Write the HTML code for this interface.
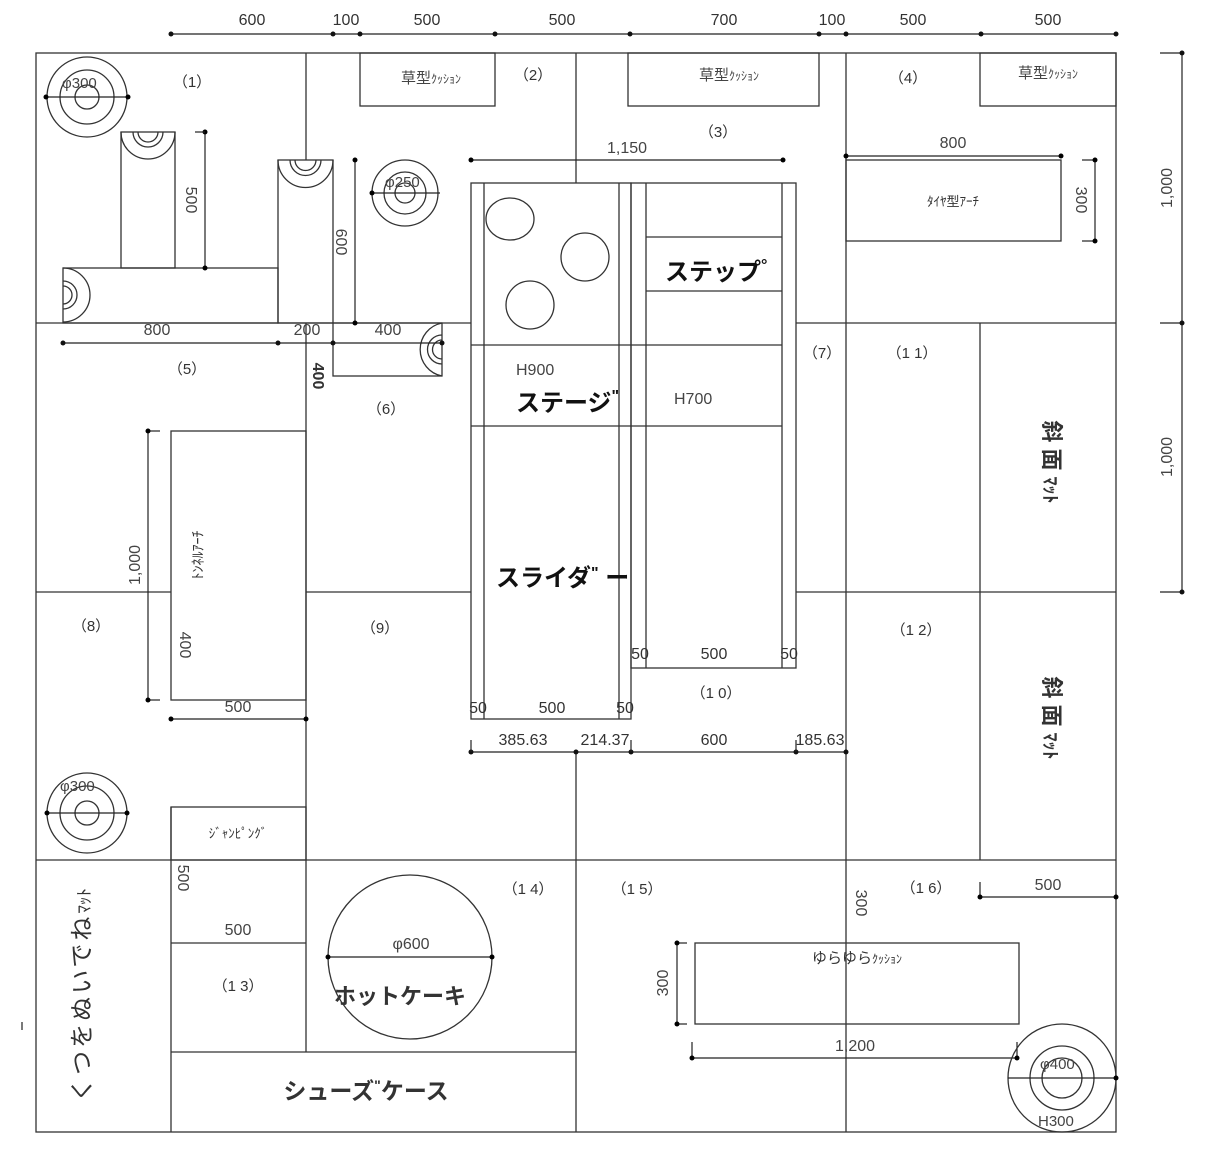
<!DOCTYPE html>
<html><head><meta charset="utf-8"><style>
html,body{margin:0;padding:0;background:#fff;}
svg{display:block;}
text{font-family:"Liberation Sans","Noto Sans CJK JP",sans-serif;fill:#333;}
.l{stroke:#333;stroke-width:1.3;fill:none;}
.d{stroke:#222;stroke-width:1.2;fill:none;}
.t{font-size:16px;fill:#444;}
.s{font-size:15px;fill:#444;}
.b{font-size:24px;font-weight:bold;fill:#111;}
</style></head><body>
<svg width="1210" height="1159" viewBox="0 0 1210 1159" xmlns="http://www.w3.org/2000/svg">
<line class="d" x1="171" y1="34" x2="1116" y2="34"/>
<g fill="#111">
<circle cx="171" cy="34" r="2.5"/><circle cx="333" cy="34" r="2.5"/><circle cx="360" cy="34" r="2.5"/><circle cx="495" cy="34" r="2.5"/><circle cx="630" cy="34" r="2.5"/><circle cx="819" cy="34" r="2.5"/><circle cx="846" cy="34" r="2.5"/><circle cx="981" cy="34" r="2.5"/><circle cx="1116" cy="34" r="2.5"/>
</g>
<g class="t" text-anchor="middle">
<text x="252" y="25">600</text><text x="346" y="25">100</text><text x="427" y="25">500</text><text x="562" y="25">500</text><text x="724" y="25">700</text><text x="832" y="25">100</text><text x="913" y="25">500</text><text x="1048" y="25">500</text>
</g>
<line class="d" x1="1182" y1="53" x2="1182" y2="592"/>
<line class="d" x1="1160" y1="53" x2="1182" y2="53"/><line class="d" x1="1160" y1="323" x2="1182" y2="323"/><line class="d" x1="1160" y1="592" x2="1182" y2="592"/>
<g fill="#111"><circle cx="1182" cy="53" r="2.5"/><circle cx="1182" cy="323" r="2.5"/><circle cx="1182" cy="592" r="2.5"/></g>
<text class="t" transform="translate(1172,188) rotate(-90)" text-anchor="middle">1,000</text>
<text class="t" transform="translate(1172,457) rotate(-90)" text-anchor="middle">1,000</text>

<rect class="l" x="36" y="53" width="1080" height="1079"/>
<line class="l" x1="306" y1="53" x2="306" y2="160"/>
<line class="l" x1="306" y1="323" x2="306" y2="1052"/>
<line class="l" x1="576" y1="53" x2="576" y2="183"/>
<line class="l" x1="576" y1="752" x2="576" y2="1132"/>
<line class="l" x1="846" y1="53" x2="846" y2="1132"/>
<line class="l" x1="980" y1="323" x2="980" y2="860"/>
<line class="l" x1="36" y1="323" x2="471" y2="323"/><line class="l" x1="796" y1="323" x2="1116" y2="323"/>
<line class="l" x1="36" y1="592" x2="171" y2="592"/><line class="l" x1="306" y1="592" x2="471" y2="592"/><line class="l" x1="796" y1="592" x2="1116" y2="592"/>
<line class="l" x1="36" y1="860" x2="1116" y2="860"/>

<rect class="l" x="360" y="53" width="135" height="53"/>
<rect class="l" x="628" y="53" width="191" height="53"/>
<rect class="l" x="980" y="53" width="136" height="53"/>
<text class="s" x="431" y="83" text-anchor="middle">草型<tspan font-size="12">ｸｯｼｮﾝ</tspan></text>
<text class="s" x="729" y="80" text-anchor="middle">草型<tspan font-size="12">ｸｯｼｮﾝ</tspan></text>
<text class="s" x="1048" y="78" text-anchor="middle">草型<tspan font-size="12">ｸｯｼｮﾝ</tspan></text>

<g class="s" text-anchor="middle" fill="#555">
<text x="192" y="87">（1）</text><text x="533" y="80">（2）</text><text x="718" y="137">（3）</text><text x="908" y="83">（4）</text>
<text x="187" y="374">（5）</text><text x="386" y="414">（6）</text><text x="822" y="358">（7）</text><text x="912" y="358">（1 1）</text>
<text x="91" y="631">（8）</text><text x="380" y="633">（9）</text><text x="716" y="698">（1 0）</text><text x="916" y="635">（1 2）</text>
<text x="238" y="991">（1 3）</text><text x="528" y="894">（1 4）</text><text x="637" y="894">（1 5）</text><text x="926" y="893">（1 6）</text>
</g>

<g class="l"><circle cx="87" cy="97" r="40"/><circle cx="87" cy="97" r="27"/><circle cx="87" cy="97" r="12"/></g>
<line class="d" x1="46" y1="97" x2="128" y2="97"/><circle cx="46" cy="97" r="2.5"/><circle cx="128" cy="97" r="2.5"/>
<text class="s" x="62" y="88">φ300</text>

<rect class="l" x="121" y="132" width="54" height="136"/>
<path class="l" d="M121 132 A27 27 0 0 0 175 132 M133 132 A15 15 0 0 0 163 132 M138 132 A10 10 0 0 0 158 132"/>
<rect class="l" x="63" y="268" width="215" height="55"/>
<path class="l" d="M63 268 A27 27 0 0 1 63 322 M63 281 A14 14 0 0 1 63 309 M63 286 A9 9 0 0 1 63 304"/>
<rect class="l" x="278" y="160" width="55" height="163"/>
<path class="l" d="M278 160 A27 27 0 0 0 333 160 M290 160 A15 15 0 0 0 321 160 M295 160 A10 10 0 0 0 316 160"/>
<rect class="l" x="333" y="323" width="109" height="53"/>
<path class="l" d="M442 323 A27 27 0 0 0 442 376 M442 335 A14 14 0 0 0 442 364 M442 340 A9 9 0 0 0 442 359"/>

<line class="d" x1="205" y1="132" x2="205" y2="268"/><circle cx="205" cy="132" r="2.5"/><circle cx="205" cy="268" r="2.5"/>
<line class="d" x1="195" y1="132" x2="205" y2="132"/>
<text class="t" transform="translate(186,200) rotate(90)" text-anchor="middle">500</text>
<line class="d" x1="355" y1="160" x2="355" y2="323"/><circle cx="355" cy="160" r="2.5"/><circle cx="355" cy="323" r="2.5"/>
<text class="t" transform="translate(336,242) rotate(90)" text-anchor="middle">600</text>
<line class="d" x1="63" y1="343" x2="442" y2="343"/>
<g fill="#111"><circle cx="63" cy="343" r="2.5"/><circle cx="278" cy="343" r="2.5"/><circle cx="333" cy="343" r="2.5"/><circle cx="442" cy="343" r="2.5"/></g>
<text class="t" x="157" y="335" text-anchor="middle">800</text>
<text class="t" x="307" y="335" text-anchor="middle">200</text>
<text class="t" x="388" y="335" text-anchor="middle">400</text>
<text transform="translate(313,376) rotate(90)" text-anchor="middle" font-size="16" font-weight="bold" fill="#111">400</text>

<g class="l"><circle cx="405" cy="193" r="33"/><circle cx="405" cy="193" r="21"/><circle cx="405" cy="193" r="10"/></g>
<line class="d" x1="372" y1="193" x2="440" y2="193"/><circle cx="372" cy="193" r="2.5"/>
<text class="s" x="385" y="187">φ250</text>

<line class="d" x1="471" y1="160" x2="783" y2="160"/><circle cx="471" cy="160" r="2.5"/><circle cx="783" cy="160" r="2.5"/>
<text class="t" x="627" y="153" text-anchor="middle">1,150</text>

<rect class="l" x="471" y="183" width="160" height="536"/>
<line class="l" x1="484" y1="183" x2="484" y2="719"/><line class="l" x1="619" y1="183" x2="619" y2="719"/>
<rect class="l" x="631" y="183" width="165" height="485"/>
<line class="l" x1="646" y1="183" x2="646" y2="668"/><line class="l" x1="782" y1="183" x2="782" y2="668"/>
<line class="l" x1="646" y1="237" x2="782" y2="237"/><line class="l" x1="646" y1="291" x2="782" y2="291"/>
<line class="l" x1="471" y1="345" x2="782" y2="345"/><line class="l" x1="471" y1="426" x2="782" y2="426"/>
<g class="l"><ellipse cx="510" cy="219" rx="24" ry="21"/><ellipse cx="585" cy="257" rx="24" ry="24"/><ellipse cx="530" cy="305" rx="24" ry="24"/></g>
<text class="b" x="665" y="280">ステップ<tspan font-size="16" dy="-10">°</tspan></text>
<text class="t" x="516" y="375">H900</text>
<text class="b" x="516" y="411">ステージ<tspan font-size="16" dy="-10">"</tspan></text>
<text class="t" x="674" y="404">H700</text>
<text class="b" x="496" y="586">スライダ<tspan font-size="16" dy="-8">"</tspan><tspan dy="8"> ー</tspan></text>
<g class="t" text-anchor="middle">
<text x="478" y="713">50</text><text x="552" y="713">500</text><text x="625" y="713">50</text>
<text x="640" y="659">50</text><text x="714" y="659">500</text><text x="789" y="659">50</text>
</g>
<line class="d" x1="471" y1="752" x2="846" y2="752"/>
<g fill="#111"><circle cx="471" cy="752" r="2.5"/><circle cx="576" cy="752" r="2.5"/><circle cx="631" cy="752" r="2.5"/><circle cx="796" cy="752" r="2.5"/><circle cx="846" cy="752" r="2.5"/></g>
<line class="d" x1="471" y1="740" x2="471" y2="752"/><line class="d" x1="631" y1="740" x2="631" y2="752"/><line class="d" x1="796" y1="740" x2="796" y2="752"/>
<g class="t" text-anchor="middle">
<text x="523" y="745">385.63</text><text x="605" y="745">214.37</text><text x="714" y="745">600</text><text x="820" y="745">185.63</text>
</g>

<rect class="l" x="846" y="160" width="215" height="81"/>
<line class="d" x1="846" y1="156" x2="1061" y2="156"/><circle cx="846" cy="156" r="2.5"/><circle cx="1061" cy="156" r="2.5"/>
<text class="t" x="953" y="148" text-anchor="middle">800</text>
<text x="953" y="206" text-anchor="middle" font-size="13" fill="#444">ﾀｲﾔ型ｱｰﾁ</text>
<line class="d" x1="1095" y1="160" x2="1095" y2="241"/><line class="d" x1="1082" y1="160" x2="1095" y2="160"/><line class="d" x1="1082" y1="241" x2="1095" y2="241"/>
<circle cx="1095" cy="160" r="2.5"/><circle cx="1095" cy="241" r="2.5"/>
<text class="t" transform="translate(1076,200) rotate(90)" text-anchor="middle">300</text>

<text transform="translate(1044,462) rotate(90)" text-anchor="middle" font-size="22" font-weight="bold" fill="#111" letter-spacing="6">斜面<tspan font-size="18" letter-spacing="0">ﾏｯﾄ</tspan></text>
<text transform="translate(1044,718) rotate(90)" text-anchor="middle" font-size="22" font-weight="bold" fill="#111" letter-spacing="6">斜面<tspan font-size="18" letter-spacing="0">ﾏｯﾄ</tspan></text>

<rect class="l" x="171" y="431" width="135" height="269"/>
<text transform="translate(203,555) rotate(-90)" text-anchor="middle" font-size="14" fill="#444">ﾄﾝﾈﾙｱｰﾁ</text>
<line class="d" x1="148" y1="431" x2="148" y2="700"/><line class="d" x1="148" y1="431" x2="160" y2="431"/><line class="d" x1="148" y1="700" x2="160" y2="700"/>
<circle cx="148" cy="431" r="2.5"/><circle cx="148" cy="700" r="2.5"/>
<text class="t" transform="translate(140,565) rotate(-90)" text-anchor="middle">1,000</text>
<text class="t" transform="translate(180,645) rotate(90)" text-anchor="middle">400</text>
<line class="d" x1="171" y1="719" x2="306" y2="719"/><circle cx="171" cy="719" r="2.5"/><circle cx="306" cy="719" r="2.5"/>
<text class="t" x="238" y="712" text-anchor="middle">500</text>

<g class="l"><circle cx="87" cy="813" r="40"/><circle cx="87" cy="813" r="27"/><circle cx="87" cy="813" r="12"/></g>
<line class="d" x1="47" y1="813" x2="127" y2="813"/><circle cx="47" cy="813" r="2.5"/><circle cx="127" cy="813" r="2.5"/>
<text class="s" x="60" y="791">φ300</text>

<rect class="l" x="171" y="807" width="135" height="53"/>
<text x="238" y="838" text-anchor="middle" font-size="13" fill="#444">ｼﾞｬﾝﾋﾟﾝｸﾞ</text>
<line class="l" x1="171" y1="807" x2="171" y2="1132"/>
<line class="l" x1="171" y1="943" x2="306" y2="943"/>
<text class="t" x="238" y="935" text-anchor="middle">500</text>
<text class="t" transform="translate(178,878) rotate(90)" text-anchor="middle">500</text>
<line class="l" x1="171" y1="1052" x2="576" y2="1052"/>
<text x="366" y="1099" text-anchor="middle" font-size="23" font-weight="bold" fill="#111">シューズ<tspan font-size="14" dy="-9">"</tspan><tspan dy="9">ケース</tspan></text>
<text transform="translate(90,995) rotate(-90)" text-anchor="middle" font-size="24" fill="#111" letter-spacing="3">くつをぬいでね<tspan font-size="17" letter-spacing="0">ﾏｯﾄ</tspan></text>
<line class="d" x1="22" y1="1022" x2="22" y2="1030"/>

<circle class="l" cx="410" cy="957" r="82"/>
<line class="d" x1="328" y1="957" x2="492" y2="957"/><circle cx="328" cy="957" r="2.5"/><circle cx="492" cy="957" r="2.5"/>
<text class="t" x="411" y="949" text-anchor="middle">φ600</text>
<text x="400" y="1004" text-anchor="middle" font-size="22" font-weight="bold" fill="#111">ホットケーキ</text>

<text class="t" transform="translate(856,903) rotate(90)" text-anchor="middle">300</text>
<line class="d" x1="980" y1="897" x2="1116" y2="897"/><line class="d" x1="980" y1="882" x2="980" y2="897"/>
<circle cx="980" cy="897" r="2.5"/><circle cx="1116" cy="897" r="2.5"/>
<text class="t" x="1048" y="890" text-anchor="middle">500</text>
<rect class="l" x="695" y="943" width="324" height="81"/>
<text x="857" y="963" text-anchor="middle" font-size="15" fill="#444">ゆらゆら<tspan font-size="12">ｸｯｼｮﾝ</tspan></text>
<line class="d" x1="677" y1="943" x2="677" y2="1024"/><line class="d" x1="677" y1="943" x2="687" y2="943"/><line class="d" x1="677" y1="1024" x2="687" y2="1024"/>
<circle cx="677" cy="943" r="2.5"/><circle cx="677" cy="1024" r="2.5"/>
<text class="t" transform="translate(668,983) rotate(-90)" text-anchor="middle">300</text>
<line class="d" x1="692" y1="1058" x2="1017" y2="1058"/><line class="d" x1="692" y1="1042" x2="692" y2="1058"/><line class="d" x1="1017" y1="1042" x2="1017" y2="1058"/>
<circle cx="692" cy="1058" r="2.5"/><circle cx="1017" cy="1058" r="2.5"/>
<text class="t" x="855" y="1051" text-anchor="middle">1,200</text>

<g class="l"><circle cx="1062" cy="1078" r="54"/><circle cx="1062" cy="1078" r="32"/><circle cx="1062" cy="1078" r="20"/></g>
<line class="d" x1="1008" y1="1078" x2="1116" y2="1078"/><circle cx="1116" cy="1078" r="2.5"/>
<text class="s" x="1040" y="1069">φ400</text>
<text class="s" x="1038" y="1126">H300</text>
</svg>
</body></html>
